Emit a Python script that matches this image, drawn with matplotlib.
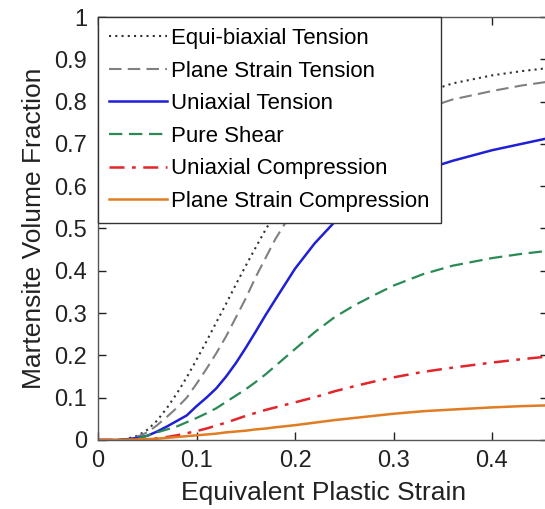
import matplotlib
matplotlib.use('Agg')
import matplotlib.pyplot as plt
from matplotlib.ticker import FuncFormatter

strain = [0, 0.02, 0.03, 0.04, 0.05, 0.06, 0.07, 0.08, 0.09, 0.10, 0.11, 0.12,
          0.13, 0.14, 0.15, 0.16, 0.17, 0.18, 0.20, 0.22, 0.24, 0.26, 0.28,
          0.30, 0.33, 0.36, 0.40, 0.43, 0.46]

equi_biaxial = [0, 0, 0.003, 0.01, 0.024, 0.046, 0.076, 0.11, 0.148, 0.19,
                0.233, 0.278, 0.322, 0.368, 0.412, 0.455, 0.497, 0.535, 0.598,
                0.655, 0.70, 0.74, 0.77, 0.795, 0.82, 0.843, 0.862, 0.872, 0.88]
plane_strain_tension = [0, 0, 0.002, 0.008, 0.018, 0.035, 0.055, 0.076, 0.10,
                        0.133, 0.168, 0.205, 0.245, 0.29, 0.335, 0.385, 0.43,
                        0.475, 0.55, 0.61, 0.66, 0.70, 0.73, 0.755, 0.782,
                        0.805, 0.825, 0.838, 0.848]
uniaxial_tension = [0, 0, 0.002, 0.005, 0.01, 0.02, 0.032, 0.045, 0.058, 0.08,
                    0.10, 0.122, 0.15, 0.182, 0.218, 0.256, 0.295, 0.332,
                    0.405, 0.465, 0.515, 0.555, 0.588, 0.613, 0.638, 0.66,
                    0.685, 0.70, 0.715]
pure_shear = [0, 0, 0.001, 0.004, 0.01, 0.018, 0.025, 0.032, 0.042, 0.052,
              0.063, 0.075, 0.09, 0.105, 0.12, 0.137, 0.155, 0.175, 0.215,
              0.255, 0.29, 0.318, 0.342, 0.365, 0.392, 0.412, 0.43, 0.44,
              0.448]
uniaxial_compression = [0, 0, 0.0005, 0.001, 0.002, 0.004, 0.007, 0.011,
                        0.016, 0.021, 0.027, 0.034, 0.041, 0.049, 0.057,
                        0.064, 0.071, 0.077, 0.089, 0.101, 0.115, 0.127,
                        0.138, 0.148, 0.161, 0.171, 0.183, 0.191, 0.198]
plane_strain_compression = [0, 0, 0.0005, 0.001, 0.002, 0.003, 0.005, 0.007,
                            0.009, 0.011, 0.013, 0.015, 0.018, 0.02, 0.022,
                            0.025, 0.027, 0.03, 0.035, 0.041, 0.047, 0.052,
                            0.057, 0.062, 0.068, 0.072, 0.077, 0.08, 0.082]

plt.rcParams['font.family'] = ['Liberation Sans', 'DejaVu Sans']

fig = plt.figure(figsize=(5.45, 5.09), dpi=100)
ax = fig.add_axes([0.18, 0.1356, 0.8257, 0.831])

ax.plot(strain, equi_biaxial, color='#333333', ls=(0, (1, 2)), lw=1.5,
        label='Equi-biaxial Tension')
ax.plot(strain, plane_strain_tension, color='#808080', ls=(0, (6, 3)), lw=1.5,
        label='Plane Strain Tension')
ax.plot(strain, uniaxial_tension, color='#1f1fd6', ls='-', lw=1.8,
        label='Uniaxial Tension')
ax.plot(strain, pure_shear, color='#2a8a55', ls=(0, (6, 3)), lw=1.6,
        label='Pure Shear')
ax.plot(strain, uniaxial_compression, color='#e3242b', ls=(0, (6, 3, 1.5, 3)),
        lw=1.8, label='Uniaxial Compression')
ax.plot(strain, plane_strain_compression, color='#e07c22', ls='-', lw=1.8,
        label='Plane Strain Compression')

ax.set_xlim(0, 0.457)
ax.set_ylim(0, 1)
ax.set_xticks([0, 0.1, 0.2, 0.3, 0.4])
ax.set_yticks([0, 0.1, 0.2, 0.3, 0.4, 0.5, 0.6, 0.7, 0.8, 0.9, 1])
fmt = FuncFormatter(lambda v, p: '%g' % round(v, 2))
ax.xaxis.set_major_formatter(fmt)
ax.yaxis.set_major_formatter(fmt)
ax.tick_params(direction='in', top=True, right=True, length=6, width=1,
               labelsize=17, colors='#222222')
ax.tick_params(axis='x', pad=7)
ax.tick_params(axis='y', pad=8)
for s in ax.spines.values():
    s.set_color('#555555')
    s.set_linewidth(1)

ax.set_xlabel('Equivalent Plastic Strain', fontsize=19, color='#222222', labelpad=7)
ax.set_ylabel('Martensite Volume Fraction', fontsize=19, color='#222222', labelpad=6)

leg = ax.legend(loc='upper left', bbox_to_anchor=(0, 1), borderaxespad=0,
                fontsize=16, handlelength=2.6, handletextpad=0.2,
                labelspacing=0.52, fancybox=False, framealpha=1,
                borderpad=0.5)
leg.get_frame().set_edgecolor('#333333')
leg.get_frame().set_linewidth(1)

fig.savefig('out.png', dpi=100)
